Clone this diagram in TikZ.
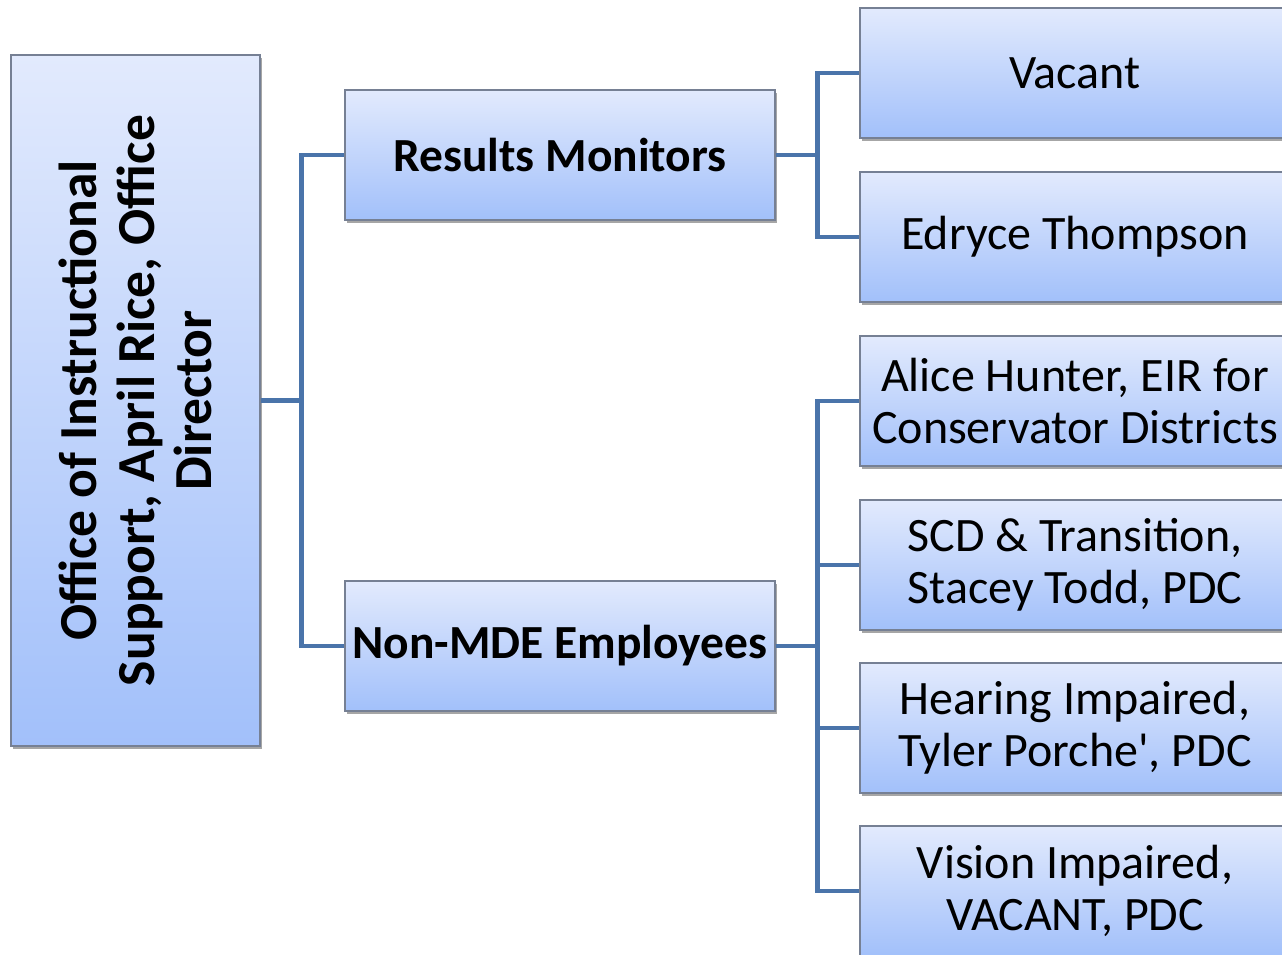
\documentclass[tikz,border=0pt]{standalone}
\usepackage{fontspec}
\setmainfont[Ligatures=TeXOff]{Carlito}
\usetikzlibrary{shadows}
\definecolor{topc}{RGB}{226,234,253}
\definecolor{botc}{RGB}{162,192,250}
\definecolor{edge}{RGB}{118,128,148}
\definecolor{conc}{RGB}{74,116,170}
\tikzset{
  box/.style={rectangle, draw=edge, line width=1.1pt, top color=topc, bottom color=botc,
    minimum width=430pt, minimum height=130pt, inner sep=0pt, align=center,
    drop shadow={shadow xshift=2pt, shadow yshift=-3pt, opacity=0.35, fill=black}},
  boldtxt/.style={font=\fontsize{47.5}{52}\selectfont\bfseries},
  regtxt/.style={font=\fontsize{48}{52}\selectfont},
  conn/.style={draw=conc, line width=4.5pt}
}
\begin{document}
\begin{tikzpicture}[x=1pt,y=-1pt]
\useasboundingbox (0,0) rectangle (1282,955);
\clip (0,0) rectangle (1282,955);
% director box
\node[box, minimum width=249pt, minimum height=691pt] (dir) at (135.5,400.5) {};
\node[rotate=90, align=center, font=\fontsize{53.5}{57.5}\selectfont\bfseries] (dirtext) at (dir.center)
  {Office of Instructional\\ Support, April Rice, Office\\ Director};
% middle
\node[box, boldtxt] (rm) at (560,155) {Results Monitors};
\node[box, boldtxt] (nme) at (560,646) {Non-MDE Employees};
% right
\node[box, regtxt] (v1) at (1075,73) {Vacant};
\node[box, regtxt] (v2) at (1075,237) {Edryce Thompson};
\node[box, regtxt] (n1) at (1075,401) {Alice Hunter, EIR for\\Conservator Districts};
\node[box, regtxt] (n2) at (1075,565) {SCD \& Transition,\\Stacey Todd, PDC};
\node[box, regtxt] (n3) at (1075,728) {Hearing Impaired,\\Tyler Porche', PDC};
\node[box, regtxt] (n4) at (1075,891) {Vision Impaired,\\VACANT, PDC};
% connectors
\draw[conn] (dir.east) -- ++(41,0) |- (rm.west);
\draw[conn] (dir.east) -- ++(41,0) |- (nme.west);
\draw[conn] (rm.east) -- ++(42,0) |- (v1.west);
\draw[conn] (rm.east) -- ++(42,0) |- (v2.west);
\draw[conn] (nme.east) -- ++(42,0) |- (n1.west);
\draw[conn] (nme.east) -- ++(42,0) |- (n2.west);
\draw[conn] (nme.east) -- ++(42,0) |- (n3.west);
\draw[conn] (nme.east) -- ++(42,0) |- (n4.west);
\end{tikzpicture}
\end{document}
